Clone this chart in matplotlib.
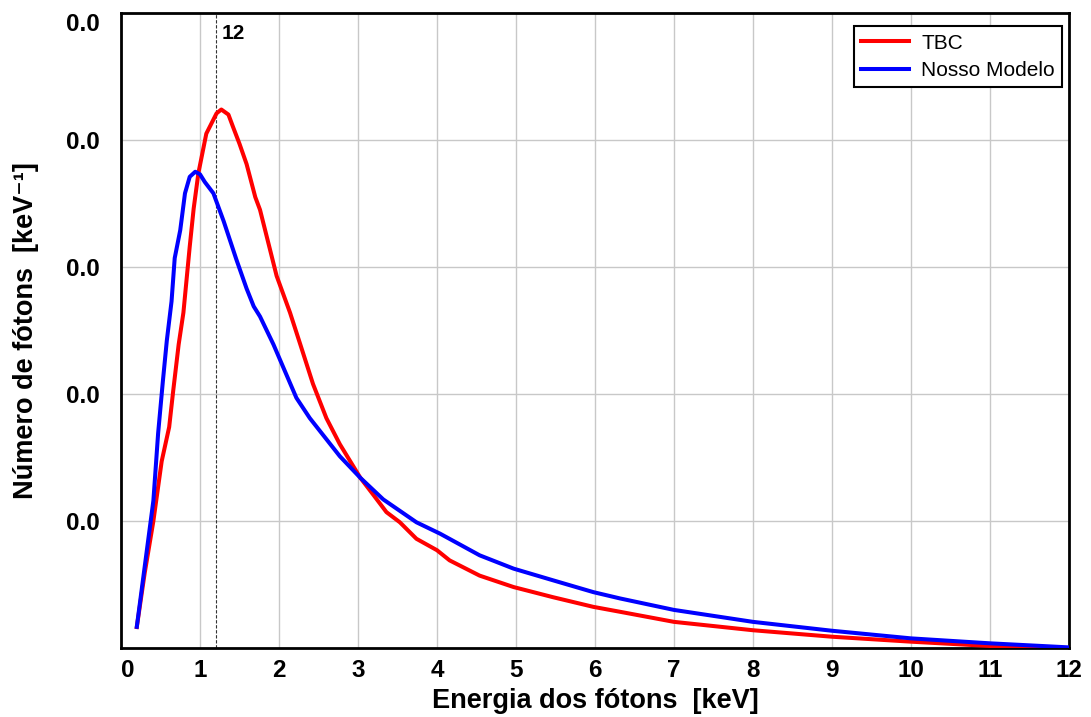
import numpy as np
import matplotlib
matplotlib.use("Agg")
import matplotlib.pyplot as plt
from matplotlib.ticker import FormatStrFormatter

# Photon spectra (energy in keV, photons per keV in units of 1e-3)
tbc_energy = [0.20, 0.30, 0.41, 0.515, 0.61, 0.66, 0.73, 0.79, 0.87, 0.92, 0.98,
              1.08, 1.21, 1.27, 1.36, 1.42, 1.50, 1.59, 1.70, 1.76, 1.97, 2.14,
              2.27, 2.43, 2.60, 2.77, 3.03, 3.19, 3.36, 3.53, 3.74, 4.00, 4.16,
              4.54, 4.97, 5.47, 5.98, 6.32, 7.0, 8.0, 9.0, 10.0, 11.0, 11.8]
tbc_counts = [0.165, 0.59, 1.00, 1.47, 1.74, 2.02, 2.39, 2.64, 3.16, 3.46, 3.74,
              4.05, 4.21, 4.24, 4.20, 4.10, 3.97, 3.81, 3.55, 3.45, 2.93, 2.64,
              2.39, 2.08, 1.81, 1.605, 1.34, 1.21, 1.07, 0.99, 0.86, 0.77, 0.69,
              0.57, 0.48, 0.40, 0.324, 0.285, 0.206, 0.14, 0.089, 0.05, 0.016,
              0.006]

model_energy = [0.20, 0.30, 0.41, 0.47, 0.53, 0.58, 0.64, 0.68, 0.75, 0.81, 0.87,
                0.94, 1.00, 1.06, 1.17, 1.30, 1.46, 1.59, 1.68, 1.76, 1.93, 2.22,
                2.39, 2.77, 3.03, 3.32, 3.74, 4.04, 4.54, 4.97, 5.47, 5.98, 6.32,
                7.0, 8.0, 9.0, 10.0, 11.0, 12.0]
model_counts = [0.167, 0.64, 1.16, 1.69, 2.10, 2.42, 2.73, 3.07, 3.29, 3.58, 3.71,
                3.75, 3.73, 3.67, 3.58, 3.36, 3.06, 2.83, 2.69, 2.61, 2.39, 1.97,
                1.81, 1.51, 1.34, 1.17, 0.99, 0.90, 0.73, 0.625, 0.533, 0.44, 0.39,
                0.30, 0.206, 0.136, 0.076, 0.037, 0.005]

x_ticks = list(range(0, 13))
y_ticks = [0.001, 0.002, 0.003, 0.004, 0.005]
marker_energy = 1.2
marker_label = "12"

plt.rcParams["font.family"] = ["Liberation Sans", "DejaVu Sans"]

fig = plt.figure(figsize=(10.91, 7.17), dpi=100)
ax = fig.add_axes([0.1109, 0.0962, 0.8689, 0.8857])

scale = 1e-3
ax.plot(tbc_energy, np.array(tbc_counts) * scale, color="#ff0000", lw=2.9,
        label="TBC", zorder=3, solid_joinstyle="round")
ax.plot(model_energy, np.array(model_counts) * scale, color="#0000ff", lw=2.9,
        label="Nosso Modelo", zorder=4, solid_joinstyle="round")

ax.axvline(marker_energy, color="#333333", lw=0.8, ls=(0, (3, 1.5)), zorder=2)
ax.text(marker_energy + 0.08, 0.00484, marker_label, fontsize=15, fontweight="bold",
        ha="left", va="center")

ax.set_xlim(0, 12)
ax.set_ylim(0, 0.005)
ax.set_xticks(x_ticks)
ax.set_yticks(y_ticks)
ax.yaxis.set_major_formatter(FormatStrFormatter("%.1f"))
ax.grid(True, color="#c8c8c8", lw=1.0, zorder=0)
ax.set_axisbelow(True)

ax.tick_params(axis="both", length=0, labelsize=17.5)
ax.tick_params(axis="x", pad=8)
ax.tick_params(axis="y", pad=15)
for lbl in ax.get_xticklabels() + ax.get_yticklabels():
    lbl.set_fontweight("bold")
ax.get_xticklabels()[0].set_horizontalalignment("left")
ax.get_yticklabels()[-1].set_verticalalignment("top")

for sp in ax.spines.values():
    sp.set_linewidth(2.0)
    sp.set_color("black")

ax.set_xlabel("Energia dos fótons  [keV]", fontsize=19.5, fontweight="bold",
              labelpad=4)
ax.set_ylabel("Número de fótons  [keV⁻¹]", fontsize=19.5, fontweight="bold",
              labelpad=20)

leg = ax.legend(loc="upper right", bbox_to_anchor=(0.993, 0.979), fontsize=15,
                frameon=True, fancybox=False, handlelength=2.3, borderpad=0.35,
                labelspacing=0.4, handletextpad=0.6, borderaxespad=0)
leg.get_frame().set_edgecolor("black")
leg.get_frame().set_linewidth(1.5)
leg.get_frame().set_alpha(1.0)

fig.savefig("out.png", dpi=100)
